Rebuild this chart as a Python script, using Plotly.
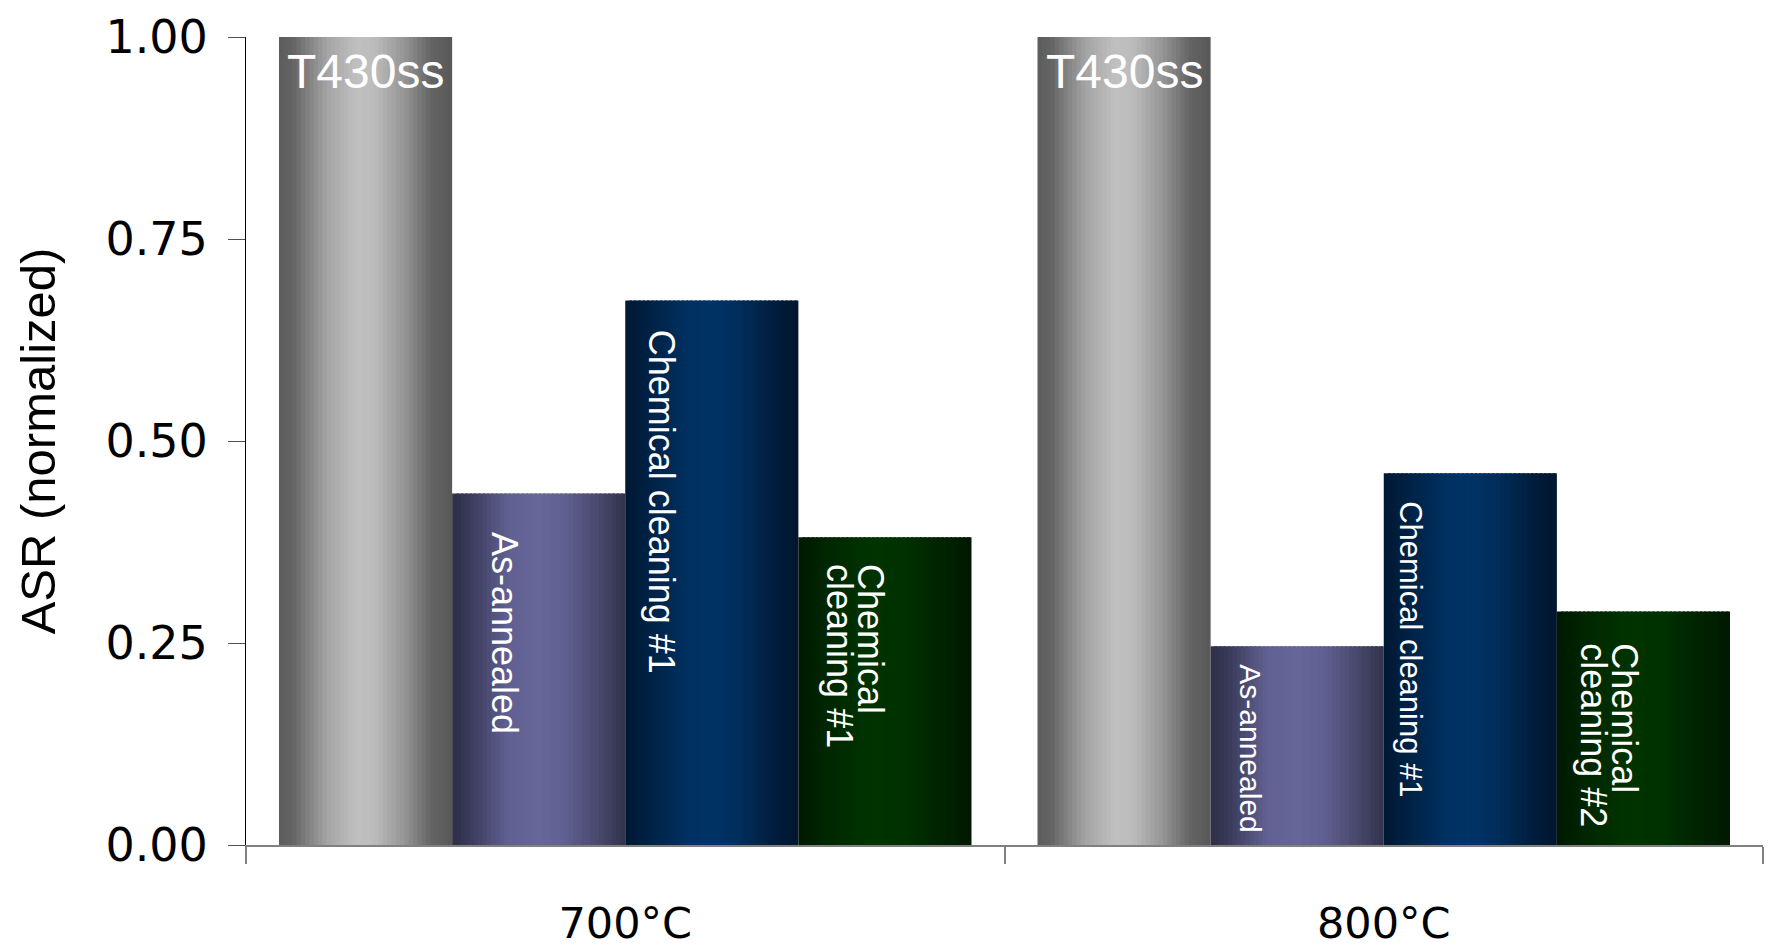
import plotly.graph_objects as go

# Categories and normalized ASR values
categories = ["700°C", "800°C"]
t430ss = [1.00, 1.00]
as_annealed = [0.435, 0.246]
chem_first = [0.674, 0.460]
chem_second = [0.381, 0.289]

# Text drawn on each bar
labels_t430ss = ["T430ss", "T430ss"]
labels_annealed = ["As-annealed", "As-annealed"]
labels_chem_first = ["Chemical cleaning #1", "Chemical cleaning #1"]
labels_chem_second = [["Chemical", "cleaning #1"], ["Chemical", "cleaning #2"]]

# Horizontal "cylinder" shading for each series: (position across bar, rgb)
shade_gray = [(0.0, (92, 92, 92)), (0.08, (100, 100, 100)), (0.28, (165, 165, 165)),
              (0.45, (192, 192, 192)), (0.55, (188, 188, 188)), (0.72, (150, 150, 150)),
              (0.88, (100, 100, 100)), (1.0, (88, 88, 88))]
shade_purple = [(0.0, (46, 46, 72)), (0.1, (58, 58, 90)), (0.32, (96, 96, 145)),
                (0.5, (102, 102, 153)), (0.65, (96, 96, 145)), (0.85, (72, 72, 108)),
                (1.0, (50, 50, 76))]
shade_blue = [(0.0, (0, 24, 50)), (0.12, (0, 32, 66)), (0.35, (0, 48, 96)),
              (0.5, (0, 51, 102)), (0.65, (0, 46, 92)), (0.85, (0, 30, 62)),
              (1.0, (0, 22, 46))]
shade_green = [(0.0, (0, 24, 0)), (0.15, (0, 38, 0)), (0.4, (0, 51, 0)),
               (0.6, (0, 50, 0)), (0.85, (0, 34, 0)), (1.0, (0, 24, 0))]

series = [
    (t430ss, shade_gray),
    (as_annealed, shade_purple),
    (chem_first, shade_blue),
    (chem_second, shade_green),
]

GROUP_WIDTH = 0.913
BAR_W = GROUP_WIDTH / len(series)
START = -GROUP_WIDTH / 2
STRIPS = 40


def shade(stops, t):
    for (p0, c0), (p1, c1) in zip(stops, stops[1:]):
        if p0 <= t <= p1:
            f = (t - p0) / (p1 - p0)
            r, g, b = (round(a + (b_ - a) * f) for a, b_ in zip(c0, c1))
            return f"rgb({r},{g},{b})"
    r, g, b = stops[-1][1]
    return f"rgb({r},{g},{b})"


fig = go.Figure()

# Each bar is built from narrow vertical strips to give the shaded look
dw = BAR_W / STRIPS
for s, (values, stops) in enumerate(series):
    for k in range(STRIPS):
        width = dw * 1.6 if k < STRIPS - 1 else dw
        fig.add_trace(go.Bar(
            x=categories, y=values,
            offset=START + s * BAR_W + k * dw,
            width=width,
            marker=dict(color=shade(stops, (k + 0.5) / STRIPS), line=dict(width=0)),
            hoverinfo="skip", showlegend=False,
        ))

LABEL_FONT = "Liberation Sans, Arial, sans-serif"
TICK_FONT = "DejaVu Sans, sans-serif"
annotations = []

# Horizontal label at the top of the reference bars
for i, (val, txt) in enumerate(zip(t430ss, labels_t430ss)):
    annotations.append(dict(
        x=i + START + 0.5 * BAR_W, y=val, xref="x", yref="y",
        text=txt, showarrow=False, xanchor="center", yanchor="top", yshift=-6,
        font=dict(family=LABEL_FONT, size=48, color="white"),
    ))

# Rotated labels inside the other bars; per-bar font size, drop below the
# bar top (px) and sideways nudge (category units)
rotated = [
    (1, as_annealed, labels_annealed,
     [dict(size=36, gap=36, nudge=-0.045), dict(size=30, gap=16, nudge=-0.061)]),
    (2, chem_first, labels_chem_first,
     [dict(size=36, gap=27, nudge=-0.066), dict(size=31, gap=26, nudge=-0.078)]),
]
for s, values, texts, styles in rotated:
    for i, (val, txt, st) in enumerate(zip(values, texts, styles)):
        annotations.append(dict(
            x=i + START + (s + 0.5) * BAR_W + st["nudge"], y=val, xref="x", yref="y",
            text=txt, textangle=90, showarrow=False,
            xanchor="center", yanchor="top", yshift=-st["gap"],
            font=dict(family=LABEL_FONT, size=st["size"], color="white"),
        ))

# Two-line labels: first line sits to the right, second to the left
second_styles = [dict(gap=25, nudge=-0.038), dict(gap=30, nudge=-0.045)]
for i, (val, lines, st) in enumerate(zip(chem_second, labels_chem_second, second_styles)):
    centre = i + START + 3.5 * BAR_W + st["nudge"]
    for j, line in enumerate(lines):
        annotations.append(dict(
            x=centre, y=val, xref="x", yref="y",
            text=line, textangle=90, showarrow=False,
            xanchor="center", yanchor="top", yshift=-st["gap"],
            xshift=15 - 31 * j,
            font=dict(family=LABEL_FONT, size=36, color="white"),
        ))

fig.update_layout(
    width=1769, height=950,
    margin=dict(l=246, r=6, t=37, b=105),
    barmode="overlay",
    plot_bgcolor="white", paper_bgcolor="white",
    font=dict(family=LABEL_FONT, color="black"),
    annotations=annotations,
    xaxis=dict(
        type="category", range=[-0.5, 1.5], automargin=False,
        tickson="boundaries", ticks="outside", ticklen=17,
        tickcolor="#808080", tickwidth=2,
        showline=True, linecolor="#808080", linewidth=2,
        showgrid=False, zeroline=False,
        ticklabelstandoff=39,
        tickfont=dict(family=TICK_FONT, size=43, color="black"),
    ),
    yaxis=dict(
        range=[0, 1], tickvals=[0, 0.25, 0.5, 0.75, 1.0], tickformat=".2f",
        automargin=False,
        ticks="outside", ticklen=17, tickcolor="#505050", tickwidth=1,
        showline=True, linecolor="black", linewidth=1,
        showgrid=False, zeroline=False,
        ticklabelstandoff=11,
        tickfont=dict(family=TICK_FONT, size=46, color="black"),
        title=dict(text="ASR (normalized)", font=dict(family=LABEL_FONT, size=49, color="black"),
                   standoff=34),
    ),
)

fig.write_html("out.html")
